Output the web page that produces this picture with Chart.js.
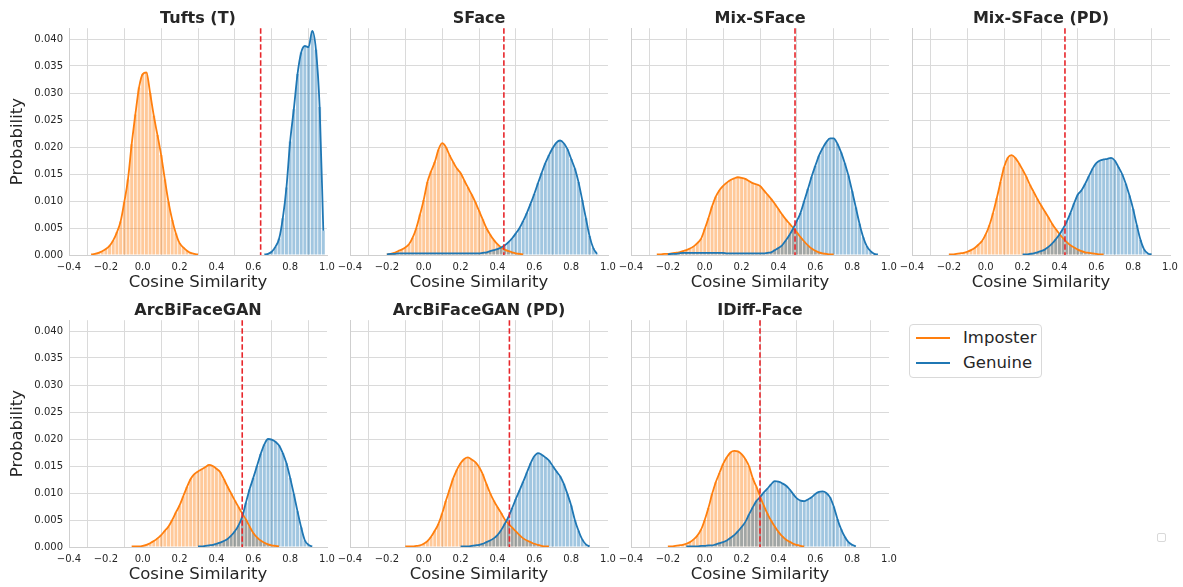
<!DOCTYPE html>
<html>
<head>
<meta charset="utf-8">
<script src="https://cdn.jsdelivr.net/npm/chart.js@4.4.1/dist/chart.umd.min.js"></script>
<style>
  body { margin: 0; background: #fff; width: 1183px; height: 587px; overflow: hidden; position: relative; font-family: "DejaVu Sans", sans-serif; }
  canvas { position: absolute; }
  #legend { position: absolute; left: 909px; top: 324px; width: 133px; height: 54px; box-sizing: border-box;
            border: 1px solid #d9d9d9; border-radius: 4px; background: #fff; color: #262626; font-size: 16.5px; }
  #legend .row { position: absolute; left: 0; height: 20px; line-height: 20px; }
  #legend .sw { position: absolute; left: 6px; top: 9px; width: 34px; height: 2px; }
  #legend .txt { position: absolute; left: 53px; top: 0; white-space: nowrap; }
  #empty { position: absolute; left: 1157px; top: 533px; width: 9px; height: 9px; box-sizing: border-box;
           border: 1px solid #d9d9d9; border-radius: 2px; }
</style>
</head>
<body>
<div id="legend">
  <div class="row" style="top:3px"><span class="sw" style="background:#ff7f0e"></span><span class="txt">Imposter</span></div>
  <div class="row" style="top:28px"><span class="sw" style="background:#1f77b4"></span><span class="txt">Genuine</span></div>
</div>
<div id="empty"></div>
<script>
// panels, thresholds and ticks
const titles = ["Tufts (T)", "SFace", "Mix-SFace", "Mix-SFace (PD)", "ArcBiFaceGAN", "ArcBiFaceGAN (PD)", "IDiff-Face"];
const thresholds = [0.64, 0.435, 0.49, 0.43, 0.54, 0.465, 0.30];
const xTicks = [-0.4, -0.2, 0.0, 0.2, 0.4, 0.6, 0.8, 1.0];
const yTicks = [0, 0.005, 0.010, 0.015, 0.020, 0.025, 0.030, 0.035, 0.040];
const binWidth = 0.02;

// first bin centre of every imposter / genuine series
const impStart = [-0.28, -0.20, -0.26, -0.20, -0.06, -0.10, -0.20];
const genStart = [0.66, -0.20, -0.20, 0.20, 0.30, 0.20, -0.10];

// probability per bin
const tuftsImp = [0.0001,0.0002,0.0004,0.0007,0.0011,0.0017,0.0027,0.0042,0.0062,0.0098,
                  0.0140,0.0205,0.0260,0.0310,0.0335,0.0338,0.0300,0.0258,0.0222,0.0185,
                  0.0140,0.0098,0.0065,0.0040,0.0022,0.0014,0.0008,0.0004,0.0002,0.0001];
const tuftsGen = [0.0001,0.0002,0.0006,0.0015,0.0030,0.0068,0.0125,0.0210,0.0270,0.0335,
                  0.0375,0.0387,0.0385,0.0415,0.0380,0.0274,0.0045];

const sfaceImp = [0.0001,0.0002,0.0004,0.0007,0.0010,0.0014,0.0020,0.0032,0.0050,0.0075,
                  0.0102,0.0135,0.0155,0.0172,0.0195,0.0207,0.0200,0.0185,0.0172,0.0160,
                  0.0152,0.0138,0.0125,0.0112,0.0098,0.0082,0.0066,0.0050,0.0038,0.0028,
                  0.0020,0.0014,0.0010,0.0007,0.0005,0.0003,0.0002,0.0001];
const sfaceGen = [0.0001,0.0002,0.0002,0.0003,0.0003,0.0003,0.0003,0.0003,0.0003,0.0003,
                  0.0003,0.0003,0.0003,0.0003,0.0003,0.0003,0.0003,0.0003,0.0003,0.0003,
                  0.0003,0.0003,0.0003,0.0003,0.0003,0.0003,0.0004,0.0005,0.0007,0.0009,
                  0.0011,0.0014,0.0018,0.0024,0.0031,0.0040,0.0050,0.0063,0.0078,0.0095,
                  0.0113,0.0133,0.0152,0.0170,0.0185,0.0198,0.0208,0.0212,0.0207,0.0196,
                  0.0178,0.0160,0.0135,0.0102,0.0068,0.0035,0.0013,0.0002];

const mixImp = [0.0001,0.0001,0.0002,0.0002,0.0003,0.0004,0.0005,0.0007,0.0009,0.0012,
                0.0016,0.0022,0.0030,0.0048,0.0068,0.0090,0.0108,0.0120,0.0128,0.0134,
                0.0139,0.0142,0.0144,0.0143,0.0141,0.0137,0.0133,0.0131,0.0128,0.0120,
                0.0112,0.0104,0.0095,0.0085,0.0075,0.0066,0.0058,0.0050,0.0042,0.0033,
                0.0025,0.0018,0.0012,0.0008,0.0005,0.0003,0.0002,0.0001,0.0001];
const mixGen = [0.0001,0.0002,0.0002,0.0003,0.0004,0.0004,0.0004,0.0004,0.0004,0.0004,
                0.0004,0.0004,0.0004,0.0004,0.0004,0.0004,0.0003,0.0003,0.0003,0.0003,
                0.0003,0.0003,0.0003,0.0003,0.0003,0.0003,0.0003,0.0004,0.0005,0.0009,
                0.0013,0.0018,0.0027,0.0037,0.0049,0.0063,0.0078,0.0100,0.0122,0.0145,
                0.0165,0.0184,0.0198,0.0209,0.0216,0.0216,0.0206,0.0190,0.0170,0.0147,
                0.0118,0.0088,0.0058,0.0033,0.0016,0.0007,0.0002,0.0001];

const mixPdImp = [0.0001,0.0001,0.0002,0.0003,0.0004,0.0006,0.0009,0.0013,0.0019,0.0026,
                  0.0038,0.0055,0.0078,0.0105,0.0135,0.0163,0.0180,0.0185,0.0180,0.0170,
                  0.0158,0.0145,0.0130,0.0117,0.0104,0.0092,0.0081,0.0070,0.0058,0.0048,
                  0.0039,0.0031,0.0024,0.0018,0.0014,0.0010,0.0007,0.0005,0.0004,0.0003,
                  0.0002,0.0001,0.0001];
const mixPdGen = [0.0001,0.0001,0.0002,0.0003,0.0005,0.0007,0.0010,0.0015,0.0021,0.0029,
                  0.0038,0.0049,0.0062,0.0078,0.0096,0.0112,0.0120,0.0132,0.0146,0.0160,
                  0.0170,0.0175,0.0177,0.0178,0.0180,0.0175,0.0163,0.0150,0.0132,0.0110,
                  0.0085,0.0055,0.0028,0.0010,0.0003,0.0001];

const arcImp = [0.0001,0.0001,0.0001,0.0002,0.0004,0.0007,0.0011,0.0016,0.0022,0.0030,
                0.0038,0.0050,0.0064,0.0077,0.0094,0.0111,0.0126,0.0135,0.0140,0.0144,
                0.0148,0.0152,0.0150,0.0145,0.0139,0.0126,0.0112,0.0099,0.0086,0.0074,
                0.0062,0.0051,0.0038,0.0026,0.0018,0.0012,0.0008,0.0005,0.0003,0.0002,0.0001];
const arcGen = [0.0001,0.0001,0.0002,0.0003,0.0004,0.0006,0.0008,0.0011,0.0015,0.0021,
                0.0029,0.0040,0.0056,0.0082,0.0107,0.0128,0.0150,0.0172,0.0190,0.0200,
                0.0199,0.0195,0.0188,0.0174,0.0155,0.0128,0.0098,0.0066,0.0036,0.0012,
                0.0004,0.0001];

const arcPdImp = [0.0001,0.0001,0.0001,0.0002,0.0003,0.0006,0.0011,0.0019,0.0030,0.0043,
                  0.0062,0.0085,0.0106,0.0127,0.0143,0.0155,0.0163,0.0166,0.0162,0.0157,
                  0.0148,0.0135,0.0117,0.0100,0.0086,0.0074,0.0063,0.0051,0.0043,0.0036,
                  0.0029,0.0022,0.0016,0.0012,0.0009,0.0006,0.0004,0.0002,0.0001,0.0001];
const arcPdGen = [0.0001,0.0001,0.0001,0.0002,0.0003,0.0004,0.0006,0.0009,0.0012,0.0016,
                  0.0022,0.0031,0.0043,0.0056,0.0072,0.0089,0.0105,0.0121,0.0138,0.0155,
                  0.0168,0.0174,0.0171,0.0166,0.0160,0.0150,0.0140,0.0131,0.0117,0.0098,
                  0.0077,0.0050,0.0030,0.0014,0.0005,0.0001];

const idiffImp = [0.0001,0.0001,0.0002,0.0003,0.0004,0.0006,0.0009,0.0014,0.0021,0.0032,
                  0.0050,0.0072,0.0098,0.0120,0.0137,0.0154,0.0166,0.0175,0.0178,0.0177,
                  0.0172,0.0163,0.0150,0.0128,0.0112,0.0094,0.0077,0.0062,0.0049,0.0038,
                  0.0028,0.0020,0.0014,0.0010,0.0006,0.0004,0.0002,0.0001];
const idiffGen = [0.0001,0.0001,0.0001,0.0001,0.0002,0.0002,0.0003,0.0003,0.0005,0.0007,
                  0.0009,0.0012,0.0017,0.0022,0.0029,0.0037,0.0046,0.0060,0.0073,0.0085,
                  0.0092,0.0101,0.0108,0.0116,0.0122,0.0121,0.0118,0.0114,0.0107,0.0098,
                  0.0090,0.0086,0.0085,0.0088,0.0092,0.0098,0.0102,0.0103,0.0100,0.0092,
                  0.0075,0.0052,0.0033,0.0019,0.0009,0.0004,0.0001];

const imposter = [tuftsImp, sfaceImp, mixImp, mixPdImp, arcImp, arcPdImp, idiffImp];
const genuine = [tuftsGen, sfaceGen, mixGen, mixPdGen, arcGen, arcPdGen, idiffGen];

// layout of the grid (plot area corners)
const colLeft = [69, 350, 631, 912];
const rowTop = [28, 320];
const plotW = 258, plotH = 227;
const yAxisW = 62, xAxisH = 40, titleH = 28, rightPad = 18;

Chart.defaults.font.family = "'DejaVu Sans', sans-serif";
Chart.defaults.color = "#262626";

const thresholdLine = {
  id: "thresholdLine",
  afterDatasetsDraw(chart, args, opts) {
    const { ctx, chartArea, scales } = chart;
    const px = scales.x.getPixelForValue(opts.value);
    ctx.save();
    ctx.strokeStyle = "#e8262b";
    ctx.lineWidth = 1.6;
    ctx.setLineDash([5.5, 2.5]);
    ctx.beginPath();
    ctx.moveTo(px, chartArea.top);
    ctx.lineTo(px, chartArea.bottom);
    ctx.stroke();
    ctx.restore();
  }
};

function toPoints(values, start) {
  return values.map((y, k) => ({ x: +(start + k * binWidth).toFixed(2), y: y }));
}

titles.forEach((title, i) => {
  const row = i < 4 ? 0 : 1;
  const col = i % 4;
  const cv = document.createElement("canvas");
  cv.width = yAxisW + plotW + rightPad;
  cv.height = titleH + plotH + xAxisH;
  cv.style.left = (colLeft[col] - yAxisW) + "px";
  cv.style.top = (rowTop[row] - titleH) + "px";
  document.body.appendChild(cv);

  const imp = toPoints(imposter[i], impStart[i]);
  const gen = toPoints(genuine[i], genStart[i]);

  new Chart(cv, {
    type: "bar",
    data: {
      datasets: [
        { type: "bar", label: "Imposter", data: imp, backgroundColor: "rgba(255,127,14,0.42)",
          borderWidth: 0, grouped: false, barPercentage: 0.8, categoryPercentage: 1, order: 4 },
        { type: "bar", label: "Genuine", data: gen, backgroundColor: "rgba(31,119,180,0.42)",
          borderWidth: 0, grouped: false, barPercentage: 0.8, categoryPercentage: 1, order: 3 },
        { type: "line", label: "Imposter", data: imp, borderColor: "#ff7f0e", borderWidth: 1.8,
          pointRadius: 0, fill: false, cubicInterpolationMode: "monotone", order: 2 },
        { type: "line", label: "Genuine", data: gen, borderColor: "#1f77b4", borderWidth: 1.8,
          pointRadius: 0, fill: false, cubicInterpolationMode: "monotone", order: 1 }
      ]
    },
    options: {
      responsive: false,
      animation: false,
      events: [],
      layout: { padding: { left: 0, right: rightPad, top: 0, bottom: 0 } },
      plugins: {
        legend: { display: false },
        tooltip: { enabled: false },
        title: {
          display: true, text: title, color: "#262626", fullSize: false,
          font: { size: 16, weight: "bold" },
          padding: { top: 9, bottom: 0 }
        },
        thresholdLine: { value: thresholds[i] }
      },
      scales: {
        x: {
          type: "linear", min: -0.4, max: 1.0, offset: false,
          afterBuildTicks: (s) => { s.ticks = xTicks.map((v) => ({ value: v })); },
          afterFit: (s) => { s.height = xAxisH; },
          ticks: {
            autoSkip: false, maxRotation: 0, padding: 6, font: { size: 10 },
            callback: (v) => Number(v).toFixed(1).replace("-", "\u2212")
          },
          grid: { color: "#dadada", lineWidth: 1, drawTicks: false },
          border: { color: "#cfcfcf", width: 1 },
          title: { display: true, text: "Cosine Similarity", font: { size: 16.5 }, padding: { top: 0, bottom: 2 } }
        },
        y: {
          min: 0, max: 0.042,
          afterBuildTicks: (s) => { s.ticks = yTicks.map((v) => ({ value: v })); },
          afterFit: (s) => { s.width = yAxisW; },
          ticks: {
            display: col === 0, padding: 6, font: { size: 10 },
            callback: (v) => Number(v).toFixed(3)
          },
          grid: { color: "#dadada", lineWidth: 1, drawTicks: false },
          border: { color: "#cfcfcf", width: 1 },
          title: { display: col === 0, text: "Probability", font: { size: 16.5 }, padding: { top: 1, bottom: 0 } }
        }
      }
    },
    plugins: [thresholdLine]
  });
});
</script>
</body>
</html>
